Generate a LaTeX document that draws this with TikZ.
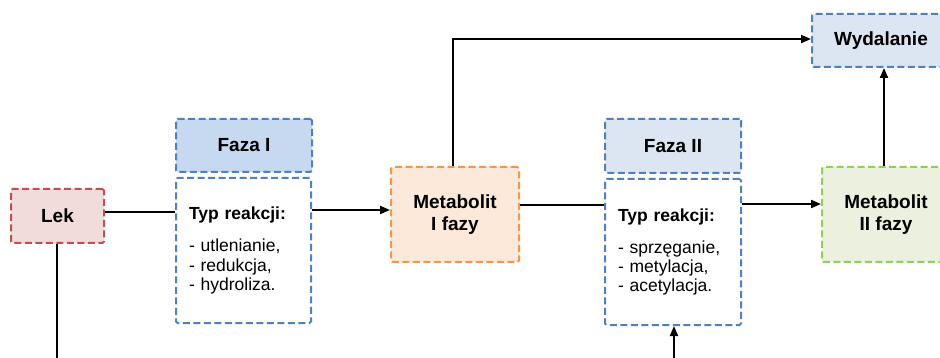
\documentclass[tikz,border=0pt]{standalone}
\usepackage{fontspec}
\setmainfont{Liberation Sans}
\usetikzlibrary{arrows.meta}
\definecolor{lekfill}{HTML}{F2DCDB}
\definecolor{lekdraw}{HTML}{C0504D}
\definecolor{faza1fill}{HTML}{C6D9F1}
\definecolor{faza2fill}{HTML}{DCE6F2}
\definecolor{bluedraw}{HTML}{4F81BD}
\definecolor{met1fill}{HTML}{FDE9D9}
\definecolor{met1draw}{HTML}{F79646}
\definecolor{met2fill}{HTML}{EBF1DE}
\definecolor{met2draw}{HTML}{92D050}
\begin{document}
\begin{tikzpicture}[x=1pt,y=-1pt,
  box/.style={rectangle, line width=2pt, dash pattern=on 7pt off 3.5pt,
    inner sep=0pt, align=center, rounded corners=1.5pt,
    font=\fontsize{19}{22}\selectfont\bfseries},
  bodybox/.style={rectangle, line width=2pt, dash pattern=on 7pt off 3.5pt,
    draw=bluedraw, fill=white, rounded corners=1.5pt, align=left,
    inner ysep=0pt, inner xsep=13pt, text width=109pt,
    minimum width=135pt, minimum height=145pt,
    font=\fontsize{17.5}{19.3}\selectfont},
  conn/.style={line width=2pt, draw=black},
  arr/.style={conn, -{Triangle[length=10pt,width=8pt]}},
  ]
\useasboundingbox (0,0) rectangle (940,358);
\clip (0,0) rectangle (940,358);

\node[box, draw=lekdraw, fill=lekfill, minimum width=93pt, minimum height=54pt] (lek) at (57.5,216) {Lek};

\node[box, draw=bluedraw, fill=faza1fill, minimum width=136pt, minimum height=53pt] (f1h) at (244,145.5) {Faza I};
\node[bodybox] (f1b) at (243.5,250.5) {\textbf{Typ reakcji:}\\[13pt]- utlenianie,\\- redukcja,\\- hydroliza.};

\node[box, draw=met1draw, fill=met1fill, minimum width=128pt, minimum height=95pt] (m1) at (455,214.5) {Metabolit\\I fazy};

\node[box, draw=bluedraw, fill=faza2fill, minimum width=136pt, minimum height=54pt] (f2h) at (673,146) {Faza II};
\node[bodybox, minimum width=136pt, minimum height=146pt, text width=110pt] (f2b) at (673,252) {\textbf{Typ reakcji:}\\[13pt]- sprzęganie,\\- metylacja,\\- acetylacja.};

\node[box, draw=met2draw, fill=met2fill, minimum width=128pt, minimum height=95pt] (m2) at (886,214.5) {Metabolit\\II fazy};

\node[box, draw=bluedraw, fill=faza2fill, minimum width=138pt, minimum height=53pt] (wyd) at (881,40.5) {Wydalanie};

\coordinate (lekdown) at (57,370);
\coordinate (f2in) at (674,370);

\draw[conn] (lek.east |- 0,212) -- (f1b.west |- 0,212);
\draw[conn] (lek.south -| lekdown) -- (lekdown);
\draw[arr] (f1b.east |- 0,210) -- (m1.west |- 0,210);
\draw[arr] (m1.north -| 453,0) |- (wyd.west |- 0,39);
\draw[conn] (m1.east |- 0,205) -- (f2b.west |- 0,205);
\draw[arr] (f2b.east |- 0,204) -- (m2.west |- 0,204);
\draw[arr] (m2.north -| 884,0) -- (wyd.south -| 884,0);
\draw[arr] (f2in) -- (f2b.south -| f2in);
\end{tikzpicture}
\end{document}
